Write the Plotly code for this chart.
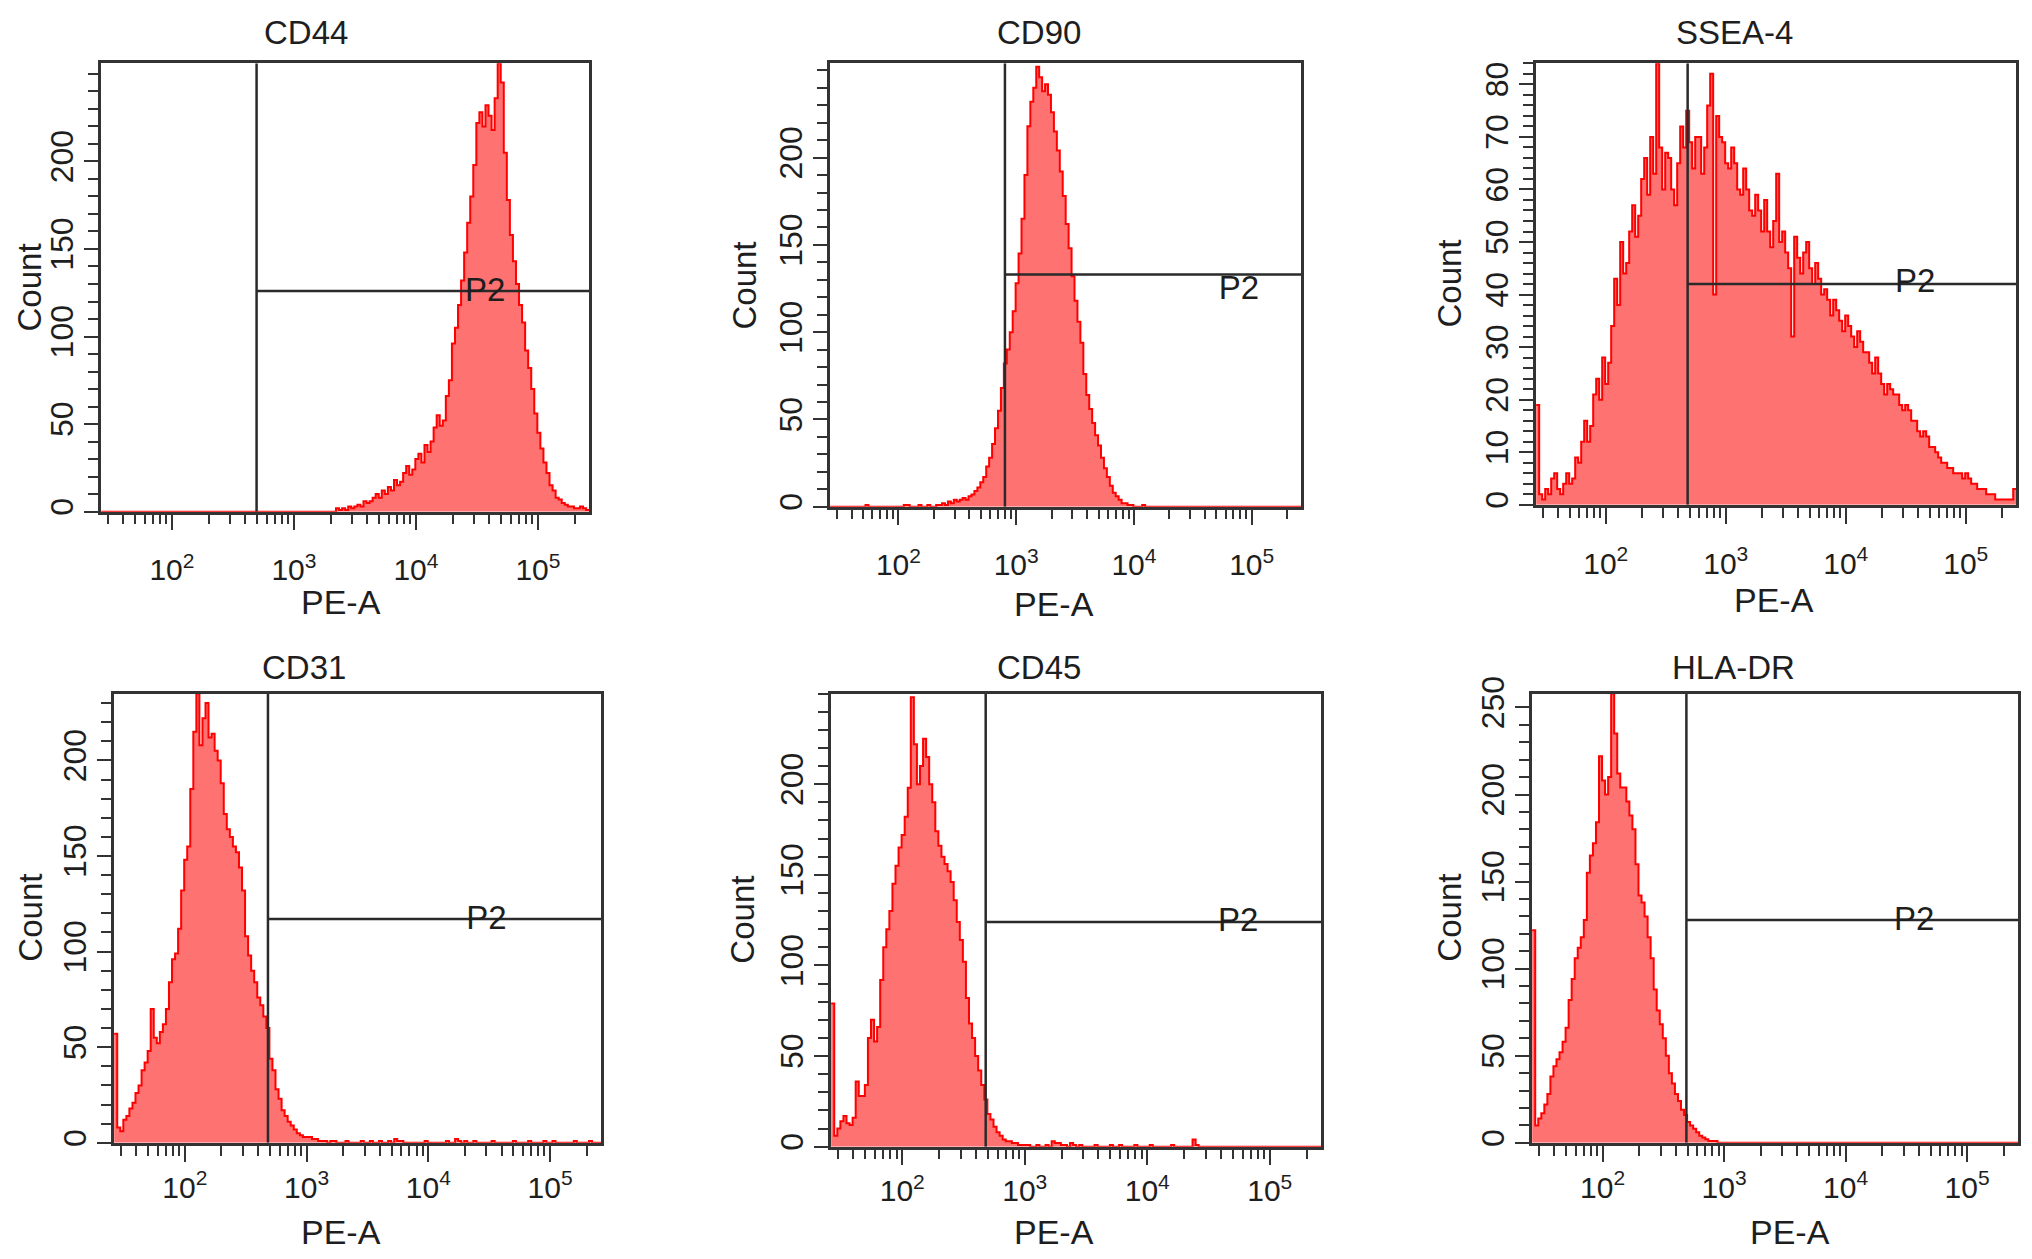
import math
import plotly.graph_objects as go
from plotly.subplots import make_subplots

# the page body keeps its default 8px margin, so the figure is drawn 16px
# smaller than the window and every pixel position below is page pixels
PAGE_W, PAGE_H, BODY = 2032, 1259, 8
W, H = PAGE_W - 2 * BODY, PAGE_H - 2 * BODY

markers = ["CD44", "CD90", "SSEA-4", "CD31", "CD45", "HLA-DR"]

# histogram channel edges, log10(PE-A); 160 channels shared by all panels
bin_log = [
    1.420, 1.445, 1.470, 1.495, 1.520, 1.545, 1.570, 1.595, 1.620, 1.645,
    1.670, 1.695, 1.720, 1.745, 1.770, 1.795, 1.820, 1.845, 1.870, 1.895,
    1.920, 1.945, 1.970, 1.995, 2.020, 2.045, 2.070, 2.095, 2.120, 2.145,
    2.170, 2.195, 2.220, 2.245, 2.270, 2.295, 2.320, 2.345, 2.370, 2.395,
    2.420, 2.445, 2.470, 2.495, 2.520, 2.545, 2.570, 2.595, 2.620, 2.645,
    2.670, 2.695, 2.720, 2.745, 2.770, 2.795, 2.820, 2.845, 2.870, 2.895,
    2.920, 2.945, 2.970, 2.995, 3.020, 3.045, 3.070, 3.095, 3.120, 3.145,
    3.170, 3.195, 3.220, 3.245, 3.270, 3.295, 3.320, 3.345, 3.370, 3.395,
    3.420, 3.445, 3.470, 3.495, 3.520, 3.545, 3.570, 3.595, 3.620, 3.645,
    3.670, 3.695, 3.720, 3.745, 3.770, 3.795, 3.820, 3.845, 3.870, 3.895,
    3.920, 3.945, 3.970, 3.995, 4.020, 4.045, 4.070, 4.095, 4.120, 4.145,
    4.170, 4.195, 4.220, 4.245, 4.270, 4.295, 4.320, 4.345, 4.370, 4.395,
    4.420, 4.445, 4.470, 4.495, 4.520, 4.545, 4.570, 4.595, 4.620, 4.645,
    4.670, 4.695, 4.720, 4.745, 4.770, 4.795, 4.820, 4.845, 4.870, 4.895,
    4.920, 4.945, 4.970, 4.995, 5.020, 5.045, 5.070, 5.095, 5.120, 5.145,
    5.170, 5.195, 5.220, 5.245, 5.270, 5.295, 5.320, 5.345, 5.370, 5.395,
    5.420,
]

# counts per channel, 20 channels per row
cd44 = [
    0, 0, 0, 0, 0, 0, 0, 0, 0, 0, 0, 0, 0, 0, 0, 0, 0, 0, 0, 0,
    0, 0, 0, 0, 0, 0, 0, 0, 0, 0, 0, 0, 0, 0, 0, 0, 0, 0, 0, 0,
    0, 0, 0, 0, 0, 0, 0, 0, 0, 0, 0, 0, 0, 0, 0, 0, 0, 0, 0, 0,
    0, 0, 0, 0, 0, 0, 0, 0, 0, 0, 0, 0, 0, 0, 0, 0, 0, 2, 1, 2,
    1, 3, 2, 3, 4, 3, 6, 5, 6, 8, 10, 8, 12, 10, 14, 12, 18, 15, 17, 22,
    26, 21, 24, 30, 33, 28, 38, 34, 40, 48, 55, 49, 52, 66, 75, 96, 105, 118, 132, 148,
    165, 180, 198, 222, 228, 220, 232, 226, 218, 236, 256, 245, 205, 178, 158, 143, 130, 118, 108, 92,
    82, 70, 56, 45, 36, 28, 22, 15, 12, 8, 7, 5, 4, 3, 3, 2, 2, 3, 2, 1,
]
cd90 = [
    0, 0, 0, 0, 0, 0, 0, 0, 0, 0, 0, 0, 1, 0, 0, 0, 0, 0, 0, 0,
    0, 0, 0, 0, 0, 1, 1, 0, 0, 0, 1, 0, 0, 1, 0, 0, 1, 1, 2, 1,
    3, 2, 4, 3, 4, 5, 4, 6, 7, 9, 11, 14, 17, 23, 28, 36, 45, 55, 68, 82,
    90, 100, 112, 128, 145, 165, 190, 218, 232, 240, 252, 246, 238, 242, 236, 226, 215, 204, 192, 178,
    162, 148, 132, 118, 106, 94, 76, 64, 56, 48, 41, 35, 28, 22, 17, 12, 8, 6, 4, 2,
    2, 1, 1, 0, 0, 0, 1, 0, 0, 0, 0, 0, 0, 0, 0, 0, 0, 0, 0, 0,
    0, 0, 0, 0, 0, 0, 0, 0, 0, 0, 0, 0, 0, 0, 0, 0, 0, 0, 0, 0,
    0, 0, 0, 0, 0, 0, 0, 0, 0, 0, 0, 0, 0, 0, 0, 0, 0, 0, 0, 0,
]
ssea4 = [
    19, 2, 1, 3, 2, 5, 6, 3, 2, 4, 6, 4, 5, 9, 8, 12, 16, 12, 15, 21,
    24, 20, 28, 23, 27, 34, 43, 38, 50, 44, 46, 52, 57, 51, 55, 62, 66, 59, 70, 63,
    84, 68, 60, 67, 66, 60, 57, 65, 72, 68, 75, 69, 64, 70, 70, 63, 68, 76, 82, 40,
    74, 70, 69, 65, 64, 68, 65, 60, 59, 64, 60, 56, 55, 59, 56, 52, 58, 52, 49, 54,
    63, 50, 52, 48, 45, 32, 51, 47, 44, 48, 50, 45, 42, 46, 43, 40, 41, 39, 36, 39,
    37, 35, 33, 36, 34, 32, 30, 33, 31, 29, 29, 27, 25, 28, 25, 23, 21, 23, 22, 21,
    21, 19, 18, 19, 18, 16, 16, 14, 13, 14, 13, 11, 11, 10, 9, 8, 8, 7, 7, 6,
    6, 6, 5, 6, 5, 4, 4, 3, 3, 3, 2, 2, 2, 1, 1, 1, 1, 1, 1, 3,
]
cd31 = [
    57, 8, 6, 12, 14, 18, 21, 26, 30, 38, 42, 48, 70, 55, 52, 58, 62, 70, 84, 96,
    99, 112, 132, 148, 155, 185, 215, 235, 208, 222, 230, 212, 214, 205, 200, 188, 172, 164, 160, 155,
    152, 144, 132, 108, 98, 90, 84, 76, 72, 66, 60, 44, 38, 28, 23, 17, 14, 11, 9, 7,
    5, 4, 3, 3, 3, 2, 2, 1, 1, 1, 0, 1, 1, 0, 0, 0, 1, 0, 0, 0,
    0, 1, 0, 0, 1, 0, 0, 1, 0, 0, 1, 0, 2, 1, 1, 0, 0, 0, 0, 0,
    0, 0, 1, 0, 0, 0, 0, 0, 0, 1, 0, 0, 2, 1, 0, 1, 0, 0, 1, 0,
    0, 0, 0, 0, 1, 0, 0, 0, 0, 0, 0, 1, 0, 0, 0, 0, 1, 0, 0, 0,
    0, 1, 0, 0, 1, 0, 0, 0, 0, 0, 0, 1, 0, 0, 0, 0, 1, 0, 0, 0,
]
cd45 = [
    79, 6, 10, 14, 17, 13, 12, 16, 36, 28, 28, 34, 60, 70, 58, 66, 92, 110, 120, 130,
    145, 155, 165, 172, 182, 198, 248, 222, 200, 210, 225, 215, 200, 190, 174, 166, 160, 156, 152, 146,
    136, 124, 114, 102, 82, 68, 60, 50, 42, 34, 26, 18, 15, 11, 8, 6, 4, 3, 3, 2,
    2, 1, 1, 1, 1, 0, 0, 1, 0, 0, 1, 0, 3, 2, 2, 1, 1, 0, 2, 1,
    0, 1, 0, 0, 0, 0, 1, 0, 0, 0, 0, 1, 0, 0, 1, 0, 0, 0, 0, 1,
    0, 0, 0, 0, 1, 0, 0, 0, 0, 0, 0, 1, 0, 0, 0, 0, 0, 0, 4, 1,
    0, 0, 0, 0, 0, 0, 0, 0, 0, 0, 0, 0, 0, 0, 0, 0, 0, 0, 0, 0,
    0, 0, 0, 0, 0, 0, 0, 0, 0, 0, 0, 0, 0, 0, 0, 0, 0, 0, 0, 0,
]
hladr = [
    122, 10, 14, 17, 22, 28, 38, 44, 48, 52, 58, 66, 82, 94, 106, 112, 118, 128, 155, 165,
    172, 184, 222, 208, 200, 210, 258, 235, 212, 204, 204, 196, 188, 180, 160, 142, 138, 130, 118, 106,
    88, 76, 68, 60, 50, 40, 34, 28, 24, 19, 16, 12, 10, 8, 6, 4, 3, 2, 1, 1,
    1, 0, 0, 0, 0, 0, 0, 0, 0, 0, 0, 0, 0, 0, 0, 0, 0, 0, 0, 0,
    0, 0, 0, 0, 0, 0, 0, 0, 0, 0, 0, 0, 0, 0, 0, 0, 0, 0, 0, 0,
    0, 0, 0, 0, 0, 0, 0, 0, 0, 0, 0, 0, 0, 0, 0, 0, 0, 0, 0, 0,
    0, 0, 0, 0, 0, 0, 0, 0, 0, 0, 0, 0, 0, 0, 0, 0, 0, 0, 0, 0,
    0, 0, 0, 0, 0, 0, 0, 0, 0, 0, 0, 0, 0, 0, 0, 0, 0, 0, 0, 0,
]
counts = [cd44, cd90, ssea4, cd31, cd45, hladr]

y_max = [256, 254, 84, 235, 250, 258]
y_ticks = [
    [0, 50, 100, 150, 200],
    [0, 50, 100, 150, 200],
    [0, 10, 20, 30, 40, 50, 60, 70, 80],
    [0, 50, 100, 150, 200],
    [0, 50, 100, 150, 200],
    [0, 50, 100, 150, 200, 250],
]
y_minor = [10, 10, 2, 10, 10, 10]

# P2 gate: threshold on PE-A and the count level of the marker bar
gate_x = [494, 802, 481, 482, 480, 489]
gate_y = [126, 133, 42, 117, 124, 128]
p2_x = [37000, 78000, 37800, 30000, 55400, 36600]
p2_y = [125, 124, 42, 116, 123.5, 127]

x_ticks = [100, 1000, 10000, 100000]
x_ticktext = ["10<sup>2</sup>", "10<sup>3</sup>", "10<sup>4</sup>", "10<sup>5</sup>"]
X_RANGE = [1.4185, 5.4185]

# page pixels: plot box (left, right, top, bottom) and label centres
boxes = [(101, 589, 47, 503), (830, 1301, 47, 498), (1536, 2016, 47, 496),
         (114, 601, 688, 1145), (831, 1321, 688, 1149), (1532, 2018, 688, 1145)]
title_pos = [(306, 16), (1039, 16), (1734, 16), (304, 662), (1039, 662), (1733, 662)]
count_pos = [(29, 275), (745, 273), (1450, 271), (31, 916), (743, 918), (1450, 916)]
pea_pos = [(341, 595), (1054, 597), (1774, 593), (341, 1236), (1054, 1236), (1790, 1236)]
xlabel_gap = [14, 14, 14, 0, 0, 0]

FONT = "Liberation Sans, Arial, Helvetica, sans-serif"
INK = "#1e1e1e"
FRAME = "#333333"


def fx(px):
    return (px - BODY) / W


def fy(py):
    return 1 - (py - BODY) / H


minor_x = [m * 10 ** e for e in range(1, 6) for m in range(2, 10)
           if X_RANGE[0] <= math.log10(m * 10 ** e) <= X_RANGE[1]]

fig = make_subplots(rows=2, cols=3)

for i, name in enumerate(markers):
    row, col = i // 3 + 1, i % 3 + 1
    xs = [10 ** v for v in bin_log]
    ys = counts[i] + [counts[i][-1]]
    fig.add_trace(go.Scatter(
        x=xs, y=ys, mode="lines",
        line=dict(color="#ff0000", width=2, shape="hv"),
        fill="tozeroy", fillcolor="#ff7272",
        hoverinfo="skip", showlegend=False,
    ), row=row, col=col)

    x_hi = 10 ** X_RANGE[1]
    fig.add_trace(go.Scatter(
        x=[gate_x[i], gate_x[i], None, gate_x[i], x_hi],
        y=[0, y_max[i], None, gate_y[i], gate_y[i]],
        mode="lines", line=dict(color="#2a2a2a", width=2.5),
        cliponaxis=False, hoverinfo="skip", showlegend=False,
    ), row=row, col=col)

    fig.add_trace(go.Scatter(
        x=[p2_x[i]], y=[p2_y[i]], mode="text", text=["P2"],
        textfont=dict(family=FONT, size=33, color=INK),
        cliponaxis=False, hoverinfo="skip", showlegend=False,
    ), row=row, col=col)

    left, right, top, bottom = boxes[i]
    sfx = "" if i == 0 else str(i + 1)
    fig.layout["xaxis" + sfx].update(
        domain=[fx(left), fx(right)], type="log", range=X_RANGE,
        showline=True, mirror=True, linecolor=FRAME, linewidth=2.5,
        showgrid=False, zeroline=False,
        tickmode="array", tickvals=x_ticks, ticktext=x_ticktext,
        ticks="outside", ticklen=16, tickwidth=2, tickcolor=FRAME,
        ticklabelstandoff=xlabel_gap[i],
        minor=dict(tickmode="array", tickvals=minor_x, ticks="outside",
                   ticklen=10, tickwidth=2, tickcolor=FRAME),
        tickfont=dict(family=FONT, size=30, color=INK),
    )
    fig.layout["yaxis" + sfx].update(
        domain=[fy(bottom), fy(top)], range=[0, y_max[i]],
        showline=True, mirror=True, linecolor=FRAME, linewidth=2.5,
        showgrid=False, zeroline=False,
        tickmode="array", tickvals=y_ticks[i], tickangle=-90,
        ticks="outside", ticklen=14, tickwidth=2, tickcolor=FRAME,
        ticklabelstandoff=-2,
        minor=dict(dtick=y_minor[i], ticks="outside", ticklen=10,
                   tickwidth=2, tickcolor=FRAME),
        tickfont=dict(family=FONT, size=32, color=INK),
    )

    label = dict(xref="paper", yref="paper", showarrow=False,
                 xanchor="center", yanchor="middle")
    tx, ty = title_pos[i]
    fig.add_annotation(x=fx(tx), y=fy(ty), text=name,
                       font=dict(family=FONT, size=33, color=INK), **label)
    cx, cy = count_pos[i]
    fig.add_annotation(x=fx(cx), y=fy(cy), text="Count", textangle=-90,
                       font=dict(family=FONT, size=33, color=INK), **label)
    px_, py_ = pea_pos[i]
    fig.add_annotation(x=fx(px_), y=fy(py_), text="PE-A",
                       font=dict(family=FONT, size=34, color=INK), **label)

fig.update_layout(
    width=W, height=H,
    margin=dict(l=0, r=0, t=0, b=0),
    paper_bgcolor="white", plot_bgcolor="white",
    showlegend=False,
)

fig.write_html("out.html")
